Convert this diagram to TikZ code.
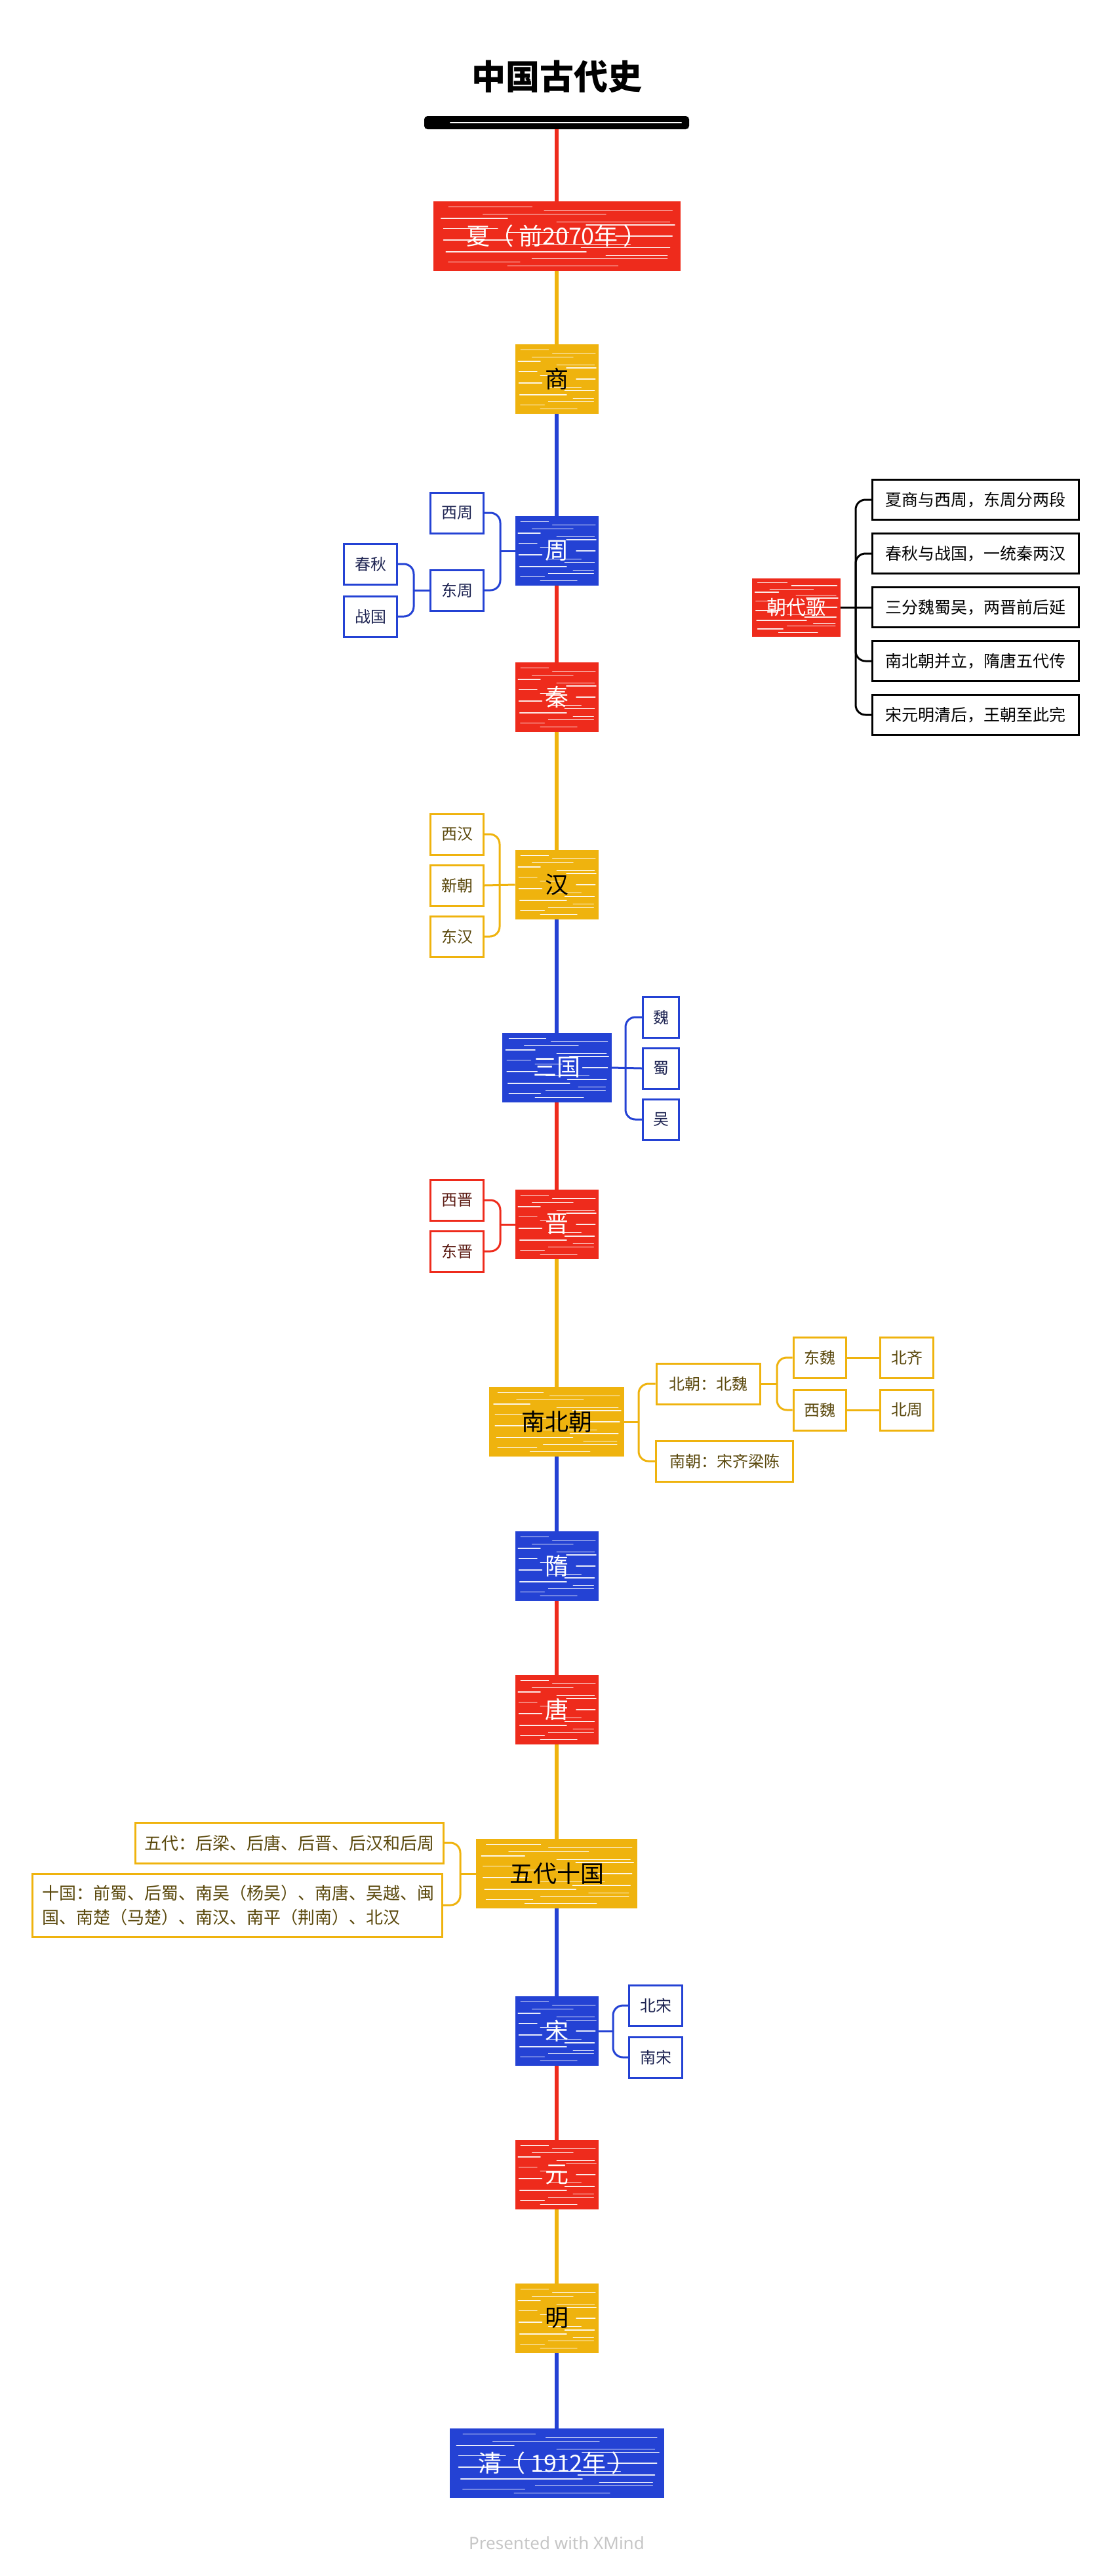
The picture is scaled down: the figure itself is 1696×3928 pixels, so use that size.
\documentclass[tikz,border=0pt]{standalone}
\usepackage{fontspec}
\setmainfont{Noto Sans CJK SC}
\newfontfamily\footfont{Noto Sans}
\usetikzlibrary{calc}
\definecolor{xred}{HTML}{EE2B1C}
\definecolor{xyellow}{HTML}{EFB30E}
\definecolor{xblue}{HTML}{2442D4}
\definecolor{redtxt}{HTML}{5B1A12}
\definecolor{bluetxt}{HTML}{1E2452}
\definecolor{yellowtxt}{HTML}{5A480C}
\definecolor{foottxt}{HTML}{C6C6C6}
\tikzset{
  streaky/.style={path picture={
    \foreach \sf/\sa/\sb/\sw in {0.07/0.06/0.40/1.0, 0.12/0.45/0.97/1.6, 0.18/0.20/0.70/1.0, 0.24/0.03/0.30/1.8, 0.29/0.50/0.96/1.0, 0.34/0.62/0.98/1.8, 0.39/0.04/0.26/1.2, 0.45/0.30/0.55/0.8, 0.50/0.74/0.97/1.6, 0.56/0.04/0.32/1.6, 0.62/0.40/0.80/0.8, 0.67/0.60/0.96/1.6, 0.73/0.05/0.62/1.8, 0.78/0.70/0.95/1.0, 0.83/0.40/0.95/1.4, 0.88/0.06/0.35/1.8, 0.94/0.30/0.75/0.8}{
      \draw[white,line width=\sw pt,line cap=round,opacity=0.9]
        let \p1=(path picture bounding box.north west), \p2=(path picture bounding box.south east) in
        ({\x1+\sa*(\x2-\x1)},{\y1+\sf*(\y2-\y1)}) -- ({\x1+\sb*(\x2-\x1)},{\y1+\sf*(\y2-\y1)});
    }}},
  topbox/.style={draw=#1, fill=#1, line width=2, minimum width=125, minimum height=104, inner sep=0, streaky, font=\fontsize{36}{40}\selectfont},
  redbox/.style={topbox=xred, text=white},
  yellowbox/.style={topbox=xyellow, text=black},
  bluebox/.style={topbox=xblue, text=white},
  sub/.style={draw=#1, line width=3, fill=white, minimum height=62, inner sep=0, font=\fontsize{24}{28}\selectfont},
  redsub/.style={sub=xred, text=redtxt},
  bluesub/.style={sub=xblue, text=bluetxt},
  yellowsub/.style={sub=xyellow, text=yellowtxt},
  poem/.style={sub=black, text=black, minimum width=315, minimum height=61, font=\fontsize{25}{29}\selectfont},
  spine/.style={line width=6, draw=#1},
  link/.style={line width=3, draw=#1, rounded corners=15},
}
\begin{document}
\begin{tikzpicture}[x=1pt,y=-1pt]
\useasboundingbox (0,0) rectangle (1696,3928);
\fill[white] (0,0) rectangle (1696,3928);

% title and bar
\node (title) at (849,117) {\fontsize{52}{56}\selectfont\bfseries 中国古代史};
\node[fill=black, minimum width=404, minimum height=20, inner sep=0, rounded corners=5] (bar) at (849,187) {};
\draw[white, line width=1.5, line cap=round] ($(bar.west)+(40,0)$) -- ($(bar.east)+(-12,0)$);

% main dynasties
\node[redbox, minimum width=375] (xia) at (849,360) {夏（\kern8pt 前2070年\kern8pt ）};
\node[yellowbox] (shang) at (849,578) {商};
\node[bluebox] (zhou) at (849,840) {周};
\node[redbox] (qin) at (849,1063) {秦};
\node[yellowbox] (han) at (849,1349) {汉};
\node[bluebox, minimum width=165] (sanguo) at (849,1628) {三国};
\node[redbox] (jin) at (849,1867) {晋};
\node[yellowbox, minimum width=204] (nanbei) at (849,2168) {南北朝};
\node[bluebox] (sui) at (849,2388) {隋};
\node[redbox] (tang) at (849,2607) {唐};
\node[yellowbox, minimum width=244] (wudai) at (849,2857) {五代十国};
\node[bluebox] (song) at (849,3097) {宋};
\node[redbox] (yuan) at (849,3316) {元};
\node[yellowbox] (ming) at (849,3535) {明};
\node[bluebox, minimum width=325] (qing) at (849,3756) {清（\kern8pt 1912年\kern8pt ）};

% spine
\draw[spine=xred] (bar.south) -- (xia.north);
\draw[spine=xyellow] (xia.south) -- (shang.north);
\draw[spine=xblue] (shang.south) -- (zhou.north);
\draw[spine=xred] (zhou.south) -- (qin.north);
\draw[spine=xyellow] (qin.south) -- (han.north);
\draw[spine=xblue] (han.south) -- (sanguo.north);
\draw[spine=xred] (sanguo.south) -- (jin.north);
\draw[spine=xyellow] (jin.south) -- (nanbei.north);
\draw[spine=xblue] (nanbei.south) -- (sui.north);
\draw[spine=xred] (sui.south) -- (tang.north);
\draw[spine=xyellow] (tang.south) -- (wudai.north);
\draw[spine=xblue] (wudai.south) -- (song.north);
\draw[spine=xred] (song.south) -- (yuan.north);
\draw[spine=xyellow] (yuan.south) -- (ming.north);
\draw[spine=xblue] (ming.south) -- (qing.north);

% Zhou
\node[bluesub, minimum width=81] (xizhou) at (697,782) {西周};
\node[bluesub, minimum width=81] (dongzhou) at (697,900) {东周};
\node[bluesub, minimum width=81] (chunqiu) at (565,860) {春秋};
\node[bluesub, minimum width=81] (zhanguo) at (565,940) {战国};
\coordinate (jzhou) at (763,840);
\coordinate (jdongzhou) at (631,900);
\draw[link=xblue] (zhou.west) -- (jzhou);
\draw[link=xblue] (jzhou) |- (xizhou.east);
\draw[link=xblue] (jzhou) |- (dongzhou.east);
\draw[link=xblue] (dongzhou.west) -- (jdongzhou);
\draw[link=xblue] (jdongzhou) |- (chunqiu.east);
\draw[link=xblue] (jdongzhou) |- (zhanguo.east);

% Han
\node[yellowsub, minimum width=81] (xihan) at (697,1272) {西汉};
\node[yellowsub, minimum width=81] (xinchao) at (697,1350) {新朝};
\node[yellowsub, minimum width=81] (donghan) at (697,1428) {东汉};
\coordinate (jhan) at (762,1350);
\draw[link=xyellow] (han.west) -- (xinchao.east);
\draw[link=xyellow] (jhan) |- (xihan.east);
\draw[link=xyellow] (jhan) |- (donghan.east);

% Sanguo
\node[bluesub, minimum width=55] (wei) at (1008,1551) {魏};
\node[bluesub, minimum width=55] (shu) at (1008,1629) {蜀};
\node[bluesub, minimum width=55] (wu) at (1008,1707) {吴};
\coordinate (jsanguo) at (954,1629);
\draw[link=xblue] (sanguo.east) -- (shu.west);
\draw[link=xblue] (jsanguo) |- (wei.west);
\draw[link=xblue] (jsanguo) |- (wu.west);

% Jin
\node[redsub, minimum width=81] (xijin) at (697,1830) {西晋};
\node[redsub, minimum width=81] (dongjin) at (697,1908) {东晋};
\coordinate (jjin) at (763,1867);
\draw[link=xred] (jin.west) -- (jjin);
\draw[link=xred] (jjin) |- (xijin.east);
\draw[link=xred] (jjin) |- (dongjin.east);

% Nanbeichao
\node[yellowsub, minimum width=158] (beichao) at (1080,2110) {北朝：北魏};
\node[yellowsub, minimum width=209] (nanchao) at (1105,2228) {南朝：宋齐梁陈};
\node[yellowsub, minimum width=80] (dongwei) at (1250,2070) {东魏};
\node[yellowsub, minimum width=80] (xiwei) at (1250,2150) {西魏};
\node[yellowsub, minimum width=81] (beiqi) at (1383,2070) {北齐};
\node[yellowsub, minimum width=81] (beizhou) at (1383,2150) {北周};
\coordinate (jnanbei) at (974,2168);
\coordinate (jbeichao) at (1185,2110);
\draw[link=xyellow] (nanbei.east) -- (jnanbei);
\draw[link=xyellow] (jnanbei) |- (beichao.west);
\draw[link=xyellow] (jnanbei) |- (nanchao.west);
\draw[link=xyellow] (beichao.east) -- (jbeichao);
\draw[link=xyellow] (jbeichao) |- (dongwei.west);
\draw[link=xyellow] (jbeichao) |- (xiwei.west);
\draw[link=xyellow] (dongwei.east) -- (beiqi.west);
\draw[link=xyellow] (xiwei.east) -- (beizhou.west);

% Wudai shiguo
\node[yellowsub, minimum width=470, font=\fontsize{26}{30}\selectfont] (wudaitxt) at (441,2810) {五代：后梁、后唐、后晋、后汉和后周};
\node[yellowsub, minimum width=625, minimum height=96, text width=595, align=left, font=\fontsize{26}{37}\selectfont] (shiguo) at (362,2905) {十国：前蜀、后蜀、南吴（杨吴）、南唐、吴越、闽\\国、南楚（马楚）、南汉、南平（荆南）、北汉};
\coordinate (jwudai) at (702,2857);
\draw[link=xyellow] (wudai.west) -- (jwudai);
\draw[link=xyellow] (jwudai) |- (wudaitxt.east);
\draw[link=xyellow] (jwudai) |- (shiguo.east);

% Song
\node[bluesub, minimum width=81] (beisong) at (1000,3058) {北宋};
\node[bluesub, minimum width=81] (nansong) at (1000,3137) {南宋};
\coordinate (jsong) at (935,3097);
\draw[link=xblue] (song.east) -- (jsong);
\draw[link=xblue] (jsong) |- (beisong.west);
\draw[link=xblue] (jsong) |- (nansong.west);

% Chaodaige
\node[redbox, minimum width=133, minimum height=87, font=\fontsize{30}{34}\selectfont] (chaodaige) at (1214,926) {朝代歌};
\node[poem] (p1) at (1488,762) {夏商与西周，东周分两段};
\node[poem] (p2) at (1488,844) {春秋与战国，一统秦两汉};
\node[poem] (p3) at (1488,926) {三分魏蜀吴，两晋前后延};
\node[poem] (p4) at (1488,1008) {南北朝并立，隋唐五代传};
\node[poem] (p5) at (1488,1090) {宋元明清后，王朝至此完};
\coordinate (jcdg) at (1305,926);
\draw[link=black] (chaodaige.east) -- (p3.west);
\draw[link=black] (jcdg) |- (p1.west);
\draw[link=black] (jcdg) |- (p2.west);
\draw[link=black] (jcdg) |- (p4.west);
\draw[link=black] (jcdg) |- (p5.west);

% footer
\node[text=foottxt, font=\footfont\fontsize{26}{30}\selectfont\bfseries] (footer) at (849,3878) {Presented with XMind};
\end{tikzpicture}
\end{document}
